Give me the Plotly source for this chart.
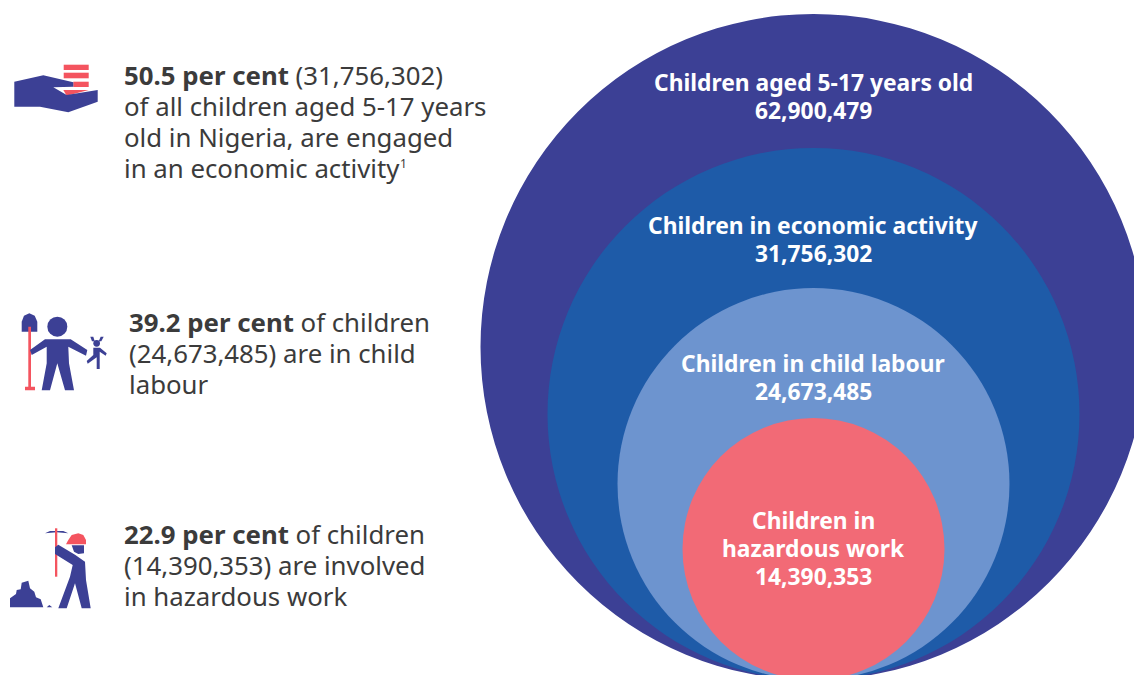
import plotly.graph_objects as go

# Nested groups, outermost first
group_names = [["Children aged 5-17 years old"], ["Children in economic activity"],
               ["Children in child labour"], ["Children in", "hazardous work"]]
group_counts = [62900479, 31756302, 24673485, 14390353]
group_colors = ["#3c4095", "#1e5ba8", "#6d94cf", "#f26a76"]
group_radii = [333, 266, 196, 131]
# Percentage shares quoted in the side notes
shares = [50.5, 39.2, 22.9]

W, H = 1134, 675
CX, BOTTOM = 813.5, 680
BLUE, RED = "#3c4095", "#f4545f"
INK = "#3b3b3b"
TEXT_FONT = "Noto Sans"

shapes = []


def poly(points, color, ox=0, oy=0):
    """Filled polygon from icon points given at triple scale around an origin."""
    d = "M" + " L".join(f"{ox + x / 3:.1f},{oy + y / 3:.1f}" for x, y in points) + " Z"
    shapes.append(dict(type="path", path=d, fillcolor=color, line_width=0, layer="above"))


def disc(cx, cy, r, color, ox=0, oy=0):
    shapes.append(dict(type="circle", x0=ox + (cx - r) / 3, x1=ox + (cx + r) / 3,
                       y0=oy + (cy - r) / 3, y1=oy + (cy + r) / 3,
                       fillcolor=color, line_width=0, layer="above"))


# Circles sharing a common base point
for r, c in zip(group_radii, group_colors):
    shapes.append(dict(type="circle", x0=CX - r, x1=CX + r, y0=BOTTOM - 2 * r, y1=BOTTOM,
                       fillcolor=c, line_width=0, layer="below"))

# Hand holding a stack of coins
ox, oy = 0, 50
for pts in ([(191, 44), (266, 44), (266, 60), (191, 60)],
            [(191, 68), (266, 68), (266, 85), (191, 85)],
            [(220, 95), (266, 95), (266, 111), (220, 111)],
            [(190, 120), (266, 120), (200, 137)]):
    poly(pts, RED, ox, oy)
poly([(43, 95), (130, 76), (220, 97), (220, 110), (160, 112), (200, 135), (293, 120),
      (293, 155), (205, 187), (120, 170), (43, 170)], BLUE, ox, oy)

# Adult with spade and toy
ox, oy = 0, 300
poly([(65, 95), (65, 65), (72, 47), (88, 40), (104, 47), (112, 65), (112, 95)], BLUE, ox, oy)
poly([(85, 80), (93, 80), (93, 260), (105, 260), (105, 271), (75, 271), (75, 260), (85, 260)], RED, ox, oy)
disc(172, 80, 30, BLUE, ox, oy)
poly([(135, 118), (212, 118), (262, 150), (258, 167), (205, 140), (207, 190), (222, 271),
      (195, 271), (172, 190), (150, 271), (125, 271), (140, 190), (140, 140), (95, 165), (90, 150)],
     BLUE, ox, oy)
disc(290, 130, 10, BLUE, ox, oy)
poly([(271, 110), (280, 110), (284, 124), (276, 124)], BLUE, ox, oy)
poly([(302, 110), (311, 110), (304, 124), (296, 124)], BLUE, ox, oy)
poly([(280, 143), (300, 143), (320, 160), (317, 167), (299, 155), (299, 207), (290, 207),
      (290, 172), (263, 191), (260, 183), (280, 165)], BLUE, ox, oy)

# Miner swinging a pickaxe next to a rock pile
ox, oy = 0, 520
poly([(135, 40), (150, 33), (190, 33), (205, 40), (170, 37)], BLUE, ox, oy)
poly([(165, 25), (172, 25), (172, 170), (165, 170)], RED, ox, oy)
poly([(198, 73), (205, 60), (215, 45), (235, 40), (250, 45), (258, 60), (258, 73)], RED, ox, oy)
poly([(215, 76), (252, 76), (252, 100), (235, 102), (222, 95)], BLUE, ox, oy)
poly([(165, 82), (175, 74), (225, 104), (255, 125), (258, 180), (272, 265), (245, 265), (225, 190),
      (200, 265), (175, 265), (210, 170), (218, 135), (165, 102)], BLUE, ox, oy)
poly([(30, 262), (30, 235), (48, 222), (50, 210), (62, 208), (65, 188), (85, 182), (90, 205),
      (103, 215), (108, 232), (122, 238), (130, 262)], BLUE, ox, oy)
poly([(140, 262), (148, 255), (157, 262)], BLUE, ox, oy)

ann = []


def label(x, y, text, size, color, anchor="left"):
    ann.append(dict(x=x, y=y, text=text, showarrow=False, xanchor=anchor, yanchor="middle",
                    font=dict(family=TEXT_FONT, size=size, color=color), align="center"))


# Side notes
note_a = [f"<b>{shares[0]} per cent</b> ({group_counts[1]:,})",
          "of all children aged 5-17 years",
          "old in Nigeria, are engaged",
          "in an economic activity"]
note_b = [f"<b>{shares[1]} per cent</b> of children",
          f"({group_counts[2]:,}) are in child",
          "labour"]
note_c = [f"<b>{shares[2]} per cent</b> of children",
          f"({group_counts[3]:,}) are involved",
          "in hazardous work"]
for x, y0, lines in ((122, 74.5, note_a), (126.5, 321.5, note_b), (122, 533.5, note_c)):
    for i, line in enumerate(lines):
        label(x, y0 + i * 31, line, 25.8, INK)
# Footnote marker after the first note
label(398, 163, "1", 12, INK)

# Circle captions
for names, count, y0 in zip(group_names, group_counts, (82.5, 225.5, 363.5, 520.5)):
    rows = names + [f"{count:,}"]
    for i, row in enumerate(rows):
        label(CX - 0.5, y0 + i * 28, f"<b>{row}</b>", 22.8, "#ffffff", "center")

fig = go.Figure()
fig.update_layout(
    width=W, height=H, margin=dict(l=0, r=0, t=0, b=0), autosize=False,
    paper_bgcolor="white", plot_bgcolor="white", showlegend=False,
    xaxis=dict(range=[0, W], visible=False, fixedrange=True),
    yaxis=dict(range=[H, 0], visible=False, fixedrange=True),
    shapes=shapes, annotations=ann,
)
fig.write_html("out.html", config=dict(displayModeBar=False))
